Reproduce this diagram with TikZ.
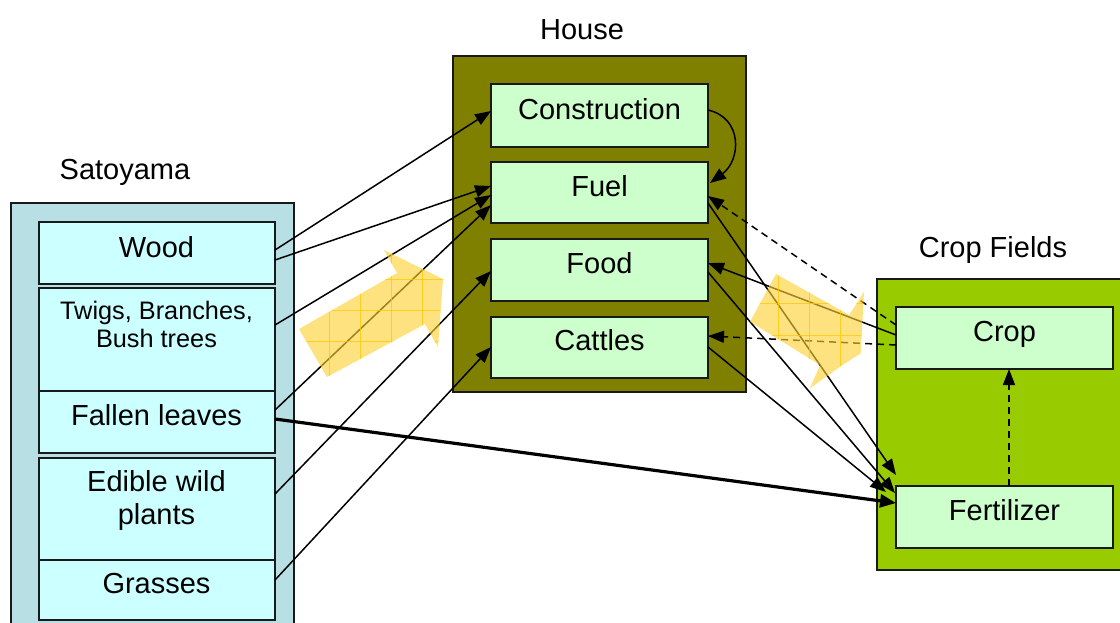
\documentclass[tikz,border=0pt]{standalone}
\usepackage{fontspec}
\setmainfont{Liberation Sans}
\usetikzlibrary{calc,arrows.meta}

\definecolor{satoOuter}{RGB}{184,223,228}
\definecolor{satoInner}{RGB}{204,255,255}
\definecolor{houseOuter}{RGB}{128,128,0}
\definecolor{paleGreen}{RGB}{204,255,204}
\definecolor{fieldGreen}{RGB}{153,204,0}
\definecolor{flowYellow}{RGB}{255,208,50}
\definecolor{gridYellow}{RGB}{255,200,0}

% two centred lines whose reference point is the first baseline
\newcommand\twolines[1]{\begin{tabular}[t]{@{}c@{}}#1\end{tabular}}

\begin{document}
\begin{tikzpicture}[x=1pt,y=-1pt,
  panel/.style={draw=black!90, line width=1.6pt, inner sep=0pt, outer sep=0pt},
  scell/.style={draw=black!90, line width=1.6pt, inner sep=0pt, outer sep=0pt,
    fill=satoInner, minimum width=236pt},
  hcell/.style={draw=black!90, line width=1.6pt, inner sep=0pt, outer sep=0pt,
    fill=paleGreen, minimum width=217pt},
  heading/.style={anchor=base, inner sep=0pt, font=\fontsize{29}{34}\selectfont},
  lbl/.style={anchor=base, inner sep=0pt, font=\fontsize{29}{33}\selectfont},
  smalllbl/.style={anchor=base, inner sep=0pt, font=\fontsize{25.3}{28}\selectfont},
  link/.style={line width=1.5pt, -{Triangle[length=16pt,width=12pt]}},
  dlink/.style={link, dash pattern=on 7pt off 5pt},
  heavylink/.style={line width=3.2pt, -{Triangle[length=16pt,width=13pt]}},
  flow/.style={fill=flowYellow, fill opacity=0.62},
  gridline/.style={draw=gridYellow, draw opacity=0.75, line width=0.9pt}
]
\useasboundingbox (0,0) rectangle (1120,622);
\clip (0,0) rectangle (1120,622);

% ---- panels ----
\node[panel, fill=satoOuter, minimum width=283pt, minimum height=437pt] (sato) at (152.5,421.5) {};
\node[panel, fill=houseOuter, minimum width=293pt, minimum height=336pt] (house) at (599.5,224) {};
\node[panel, fill=fieldGreen, minimum width=248pt, minimum height=291pt] (fields) at (1001,424.5) {};

% ---- panel titles ----
\node[heading] (satoT) at (125,179.3) {Satoyama};
\node[heading] (houseT) at (582,39.3) {House};
\node[heading] (fieldsT) at (993,257.7) {Crop Fields};

% ---- Satoyama cells ----
\node[scell, minimum height=62pt] (wood) at (157,253) {};
\node[scell, minimum height=103pt] (twigs) at (157,339.5) {};
\node[scell, minimum height=62pt] (fallen) at (157,422) {};
\node[scell, minimum height=102pt] (edible) at (157,509) {};
\node[scell, minimum height=60pt] (grasses) at (157,590) {};

\node[lbl] (woodL) at (156.5,257.5) {Wood};
\node[smalllbl] (twigsL) at (156.5,319.3) {\twolines{Twigs, Branches,\\Bush trees}};
\node[lbl] (fallenL) at (156.5,425.7) {Fallen leaves};
\node[lbl] (edibleL) at (156.5,491) {\twolines{Edible wild\\plants}};
\node[lbl] (grassesL) at (156.5,593) {Grasses};

% ---- House cells ----
\node[hcell, minimum height=63pt] (cons) at (599.5,115.5) {};
\node[hcell, minimum height=61pt] (fuel) at (599.5,192.5) {};
\node[hcell, minimum height=62pt] (food) at (599.5,270) {};
\node[hcell, minimum height=61pt] (cattles) at (599.5,347.5) {};

\node[lbl] (consL) at (599.5,119) {Construction};
\node[lbl] (fuelL) at (599.5,196) {Fuel};
\node[lbl] (foodL) at (599.5,273) {Food};
\node[lbl] (cattlesL) at (599.5,350.5) {Cattles};

% ---- Crop field cells ----
\node[hcell, minimum height=62pt] (crop) at (1004.5,338) {};
\node[hcell, minimum height=62pt] (fert) at (1004.5,517) {};

\node[lbl] (cropL) at (1004.5,341.5) {Crop};
\node[lbl] (fertL) at (1004.5,520.7) {Fertilizer};

% ---- flows from Satoyama to the House ----
\draw[link] ($(wood.east)+(0,-3)$) -- ($(cons.west)+(0,-4.5)$);
\draw[link] ($(wood.east)+(0,7)$) -- ($(fuel.west)+(0,-6.5)$);
\draw[link] ($(twigs.east)+(0,-14.5)$) -- ($(fuel.west)+(0,2.5)$);
\draw[link] ($(fallen.east)+(0,-12)$) -- ($(fuel.west)+(0,12.5)$);
\draw[link] ($(edible.east)+(0,-15)$) -- ($(food.west)+(0,1)$);
\draw[link] ($(grasses.east)+(0,-10)$) -- ($(cattles.west)+(0,-0.5)$);

% fallen leaves straight to the fields
\draw[heavylink] ($(fallen.east)+(0,-3)$) -- ($(fert.west)+(0,-14)$);

% construction waste reused as fuel
\draw[link] ($(cons.east)+(0,-5.5)$) .. controls (743,118) and (741,160) .. ($(fuel.east)+(2,-9.5)$);

% ---- exchanges between House and Crop Fields ----
\draw[dlink] ($(crop.west)+(0,-13)$) -- ($(fuel.east)+(0,3.5)$);
\draw[link] ($(crop.west)+(0,-3)$) -- ($(food.east)+(0,-7)$);
\draw[dlink] ($(crop.west)+(0,7)$) -- ($(cattles.east)+(0,-11.5)$);

\draw[link] ($(fuel.east)+(0,10.5)$) -- ($(fert.north west)+(0,-11)$);
\draw[link] ($(food.east)+(0,2)$) -- ($(fert.north west)+(-1,7)$);
\draw[link] ($(cattles.east)+(0,-0.5)$) -- ($(fert.north west)+(-10,6)$);

% fertilizer feeds the crop
\draw[dlink] ($(fert.north)+(4.5,0)$) -- ($(crop.south)+(4.5,0)$);

% ---- broad flow arrows ----
\begin{scope}
  \clip (299,329) -- (327,377) -- (425,324) -- (438,347) -- (443,279) -- (384,250) -- (397,273) -- cycle;
  \fill[flow] (280,240) rectangle (460,390);
  \foreach \gx in {298,329,360,391,422} \draw[gridline] (\gx,240) -- (\gx,390);
  \foreach \gy in {279,310,341} \draw[gridline] (280,\gy) -- (460,\gy);
\end{scope}
\begin{scope}
  \clip (750,321.7) -- (776,274) -- (849.3,315) -- (864,291.7) -- (860.7,353.3) -- (840,366.7) -- (810,388.3) -- (820,365) -- cycle;
  \fill[flow] (740,260) rectangle (880,400);
  \foreach \gx in {778,809,840} \draw[gridline] (\gx,260) -- (\gx,400);
  \foreach \gy in {303,335} \draw[gridline] (740,\gy) -- (880,\gy);
\end{scope}
\end{tikzpicture}
\end{document}
